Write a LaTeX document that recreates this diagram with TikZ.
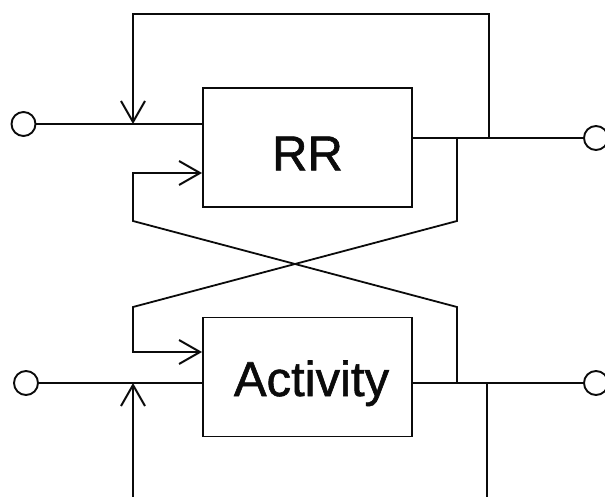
\documentclass[tikz,border=0pt]{standalone}
\usepackage{fontspec}
\setsansfont{Liberation Sans}
\newfontfamily\gothicfont[FakeBold=1.2]{Liberation Sans}
\usepackage{xcolor}
\usetikzlibrary{arrows.meta,positioning,calc}
\definecolor{inkP}{HTML}{0B0B0B}
\tikzset{
  blockbox/.style={draw=inkP, line width=1.9pt, minimum width=209pt,
                   minimum height=119pt, inner sep=0pt},
  bigtext/.style={font=\gothicfont\fontsize{49}{49}\selectfont, text=inkP},
  midtext/.style={font=\gothicfont\fontsize{49}{49}\selectfont, text=inkP},
  port/.style={circle, draw=inkP, line width=1.9pt, minimum size=24pt,
               inner sep=0pt},
  wire/.style={draw=inkP, line width=1.8pt},
  feed/.style={wire, -{Straight Barb[length=21pt, width=24pt, line width=2pt]}},
}
\begin{document}
\begin{tikzpicture}[x=1pt, y=-1pt]
  \useasboundingbox (0,0) rectangle (605,497);
  % blocks
  \node[blockbox] (rr) at (307.5,147.5) {};
  \node[blockbox] (act) at (307.5,377) {};
  \node[bigtext] (rrlab) at ($(rr.center)+(0,6)$) {RR};
  \node[midtext, anchor=base] (actlab) at ($(act.center)+(4,19)$) {Activity};
  % terminals
  \node[port] (inA) at (23.5,124) {};
  \node[port] (outA) at (596,138) {};
  \node[port] (inB) at (26,383) {};
  \node[port] (outB) at (596,383) {};
  % junctions
  \coordinate (mA) at (133,124);
  \coordinate (mB) at (133,383);
  \coordinate (jA) at (489,138);
  \coordinate (kA) at (457,138);
  \coordinate (kB) at (457,383);
  \coordinate (jB) at (487,383);
  \coordinate (top) at (133,14);
  \coordinate (botR) at (487,510);
  \coordinate (botL) at (133,510);
  % main lines
  \draw[wire] (inA) -- (inA -| rr.west);
  \draw[wire] (rr.east |- outA) -- (outA);
  \draw[wire] (inB) -- (inB -| act.west);
  \draw[wire] (act.east |- outB) -- (outB);
  % feedback loops
  \draw[feed] (jA) |- (top) -- (mA);
  \draw[feed] (botL) -- (mB);
  \draw[wire] (jB) -- (botR);
  % cross-coupling
  \draw[feed] (kA) -- (457,221) -- (133,307) |- ($(act.west)+(0,-25)$);
  \draw[feed] (kB) -- (457,307) -- (133,221) |- ($(rr.west)+(0,25.5)$);
\end{tikzpicture}
\end{document}
